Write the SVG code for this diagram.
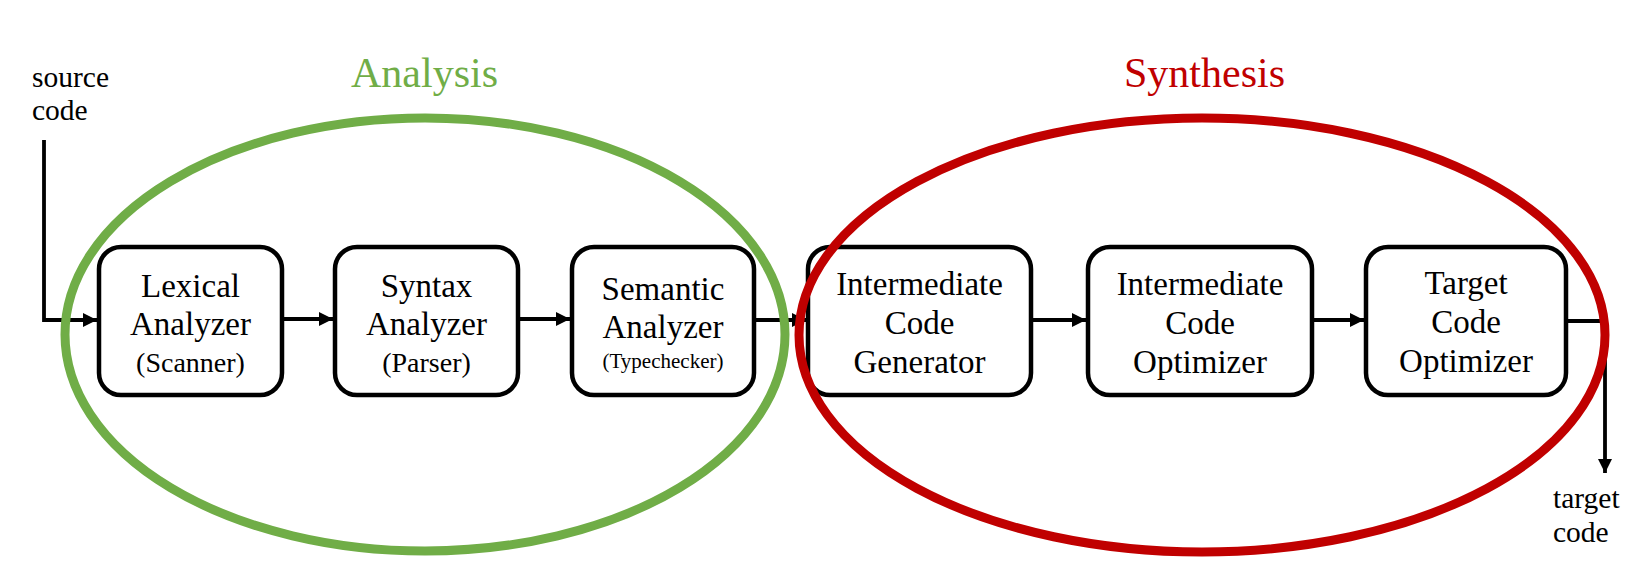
<svg xmlns="http://www.w3.org/2000/svg" width="1630" height="587" viewBox="0 0 1630 587">
  <style>
    .box { fill: #ffffff; stroke: #000000; stroke-width: 4.5; }
    .lbl { font-family: "Liberation Serif", "Times New Roman", serif; font-size: 33px; fill: #000000; text-anchor: middle; }
    .sub { font-family: "Liberation Serif", "Times New Roman", serif; font-size: 28px; fill: #000000; text-anchor: middle; }
    .small { font-family: "Liberation Serif", "Times New Roman", serif; font-size: 21px; fill: #000000; text-anchor: middle; }
    .io { font-family: "Liberation Serif", "Times New Roman", serif; font-size: 29.5px; fill: #000000; }
    .conn { fill: none; stroke: #000000; stroke-width: 3.8; }
    .title { font-family: "Liberation Serif", "Times New Roman", serif; font-size: 42px; text-anchor: middle; }
    .group { fill: none; stroke-width: 9; }
  </style>
  <defs>
    <marker id="arrow" markerUnits="userSpaceOnUse" markerWidth="14" markerHeight="14" refX="14" refY="7" orient="auto">
      <path d="M0,0 L14,7 L0,14 Z" fill="#000000"/>
    </marker>
  </defs>

  <rect width="1630" height="587" fill="#ffffff"/>

  <g id="connectors">
    <polyline class="conn" points="44,140 44,320 97,320" marker-end="url(#arrow)"/>
    <line class="conn" x1="282" y1="319" x2="333" y2="319" marker-end="url(#arrow)"/>
    <line class="conn" x1="518" y1="319" x2="570" y2="319" marker-end="url(#arrow)"/>
    <line class="conn" x1="754" y1="320" x2="806" y2="320" marker-end="url(#arrow)"/>
    <line class="conn" x1="1031" y1="320" x2="1086" y2="320" marker-end="url(#arrow)"/>
    <line class="conn" x1="1312" y1="320" x2="1364" y2="320" marker-end="url(#arrow)"/>
    <polyline class="conn" points="1566,321 1605,321 1605,473" marker-end="url(#arrow)"/>
  </g>

  <g id="lexical">
    <rect class="box" x="99" y="247" width="183" height="148" rx="22"/>
    <text class="lbl" x="190.5" y="297">Lexical</text>
    <text class="lbl" x="190.5" y="335">Analyzer</text>
    <text class="sub" x="190.5" y="372">(Scanner)</text>
  </g>

  <g id="syntax">
    <rect class="box" x="335" y="247" width="183" height="148" rx="22"/>
    <text class="lbl" x="426.5" y="297">Syntax</text>
    <text class="lbl" x="426.5" y="335">Analyzer</text>
    <text class="sub" x="426.5" y="372">(Parser)</text>
  </g>

  <g id="semantic">
    <rect class="box" x="572" y="247" width="182" height="148" rx="22"/>
    <text class="lbl" x="663" y="300">Semantic</text>
    <text class="lbl" x="663" y="338">Analyzer</text>
    <text class="small" x="663" y="368">(Typechecker)</text>
  </g>

  <g id="icg">
    <rect class="box" x="808" y="247" width="223" height="148" rx="22"/>
    <text class="lbl" x="919.5" y="295">Intermediate</text>
    <text class="lbl" x="919.5" y="334">Code</text>
    <text class="lbl" x="919.5" y="373">Generator</text>
  </g>

  <g id="ico">
    <rect class="box" x="1088" y="247" width="224" height="148" rx="22"/>
    <text class="lbl" x="1200" y="295">Intermediate</text>
    <text class="lbl" x="1200" y="334">Code</text>
    <text class="lbl" x="1200" y="373">Optimizer</text>
  </g>

  <g id="target">
    <rect class="box" x="1366" y="247" width="200" height="148" rx="22"/>
    <text class="lbl" x="1466" y="294">Target</text>
    <text class="lbl" x="1466" y="333">Code</text>
    <text class="lbl" x="1466" y="372">Optimizer</text>
  </g>

  <g id="source">
    <text class="io" x="32" y="87">source</text>
    <text class="io" x="32" y="120">code</text>
  </g>

  <g id="output">
    <text class="io" x="1553" y="508">target</text>
    <text class="io" x="1553" y="542">code</text>
  </g>

  <g id="analysis">
    <ellipse class="group" cx="425" cy="334.5" rx="360" ry="216.5" stroke="#70AD47"/>
    <text class="title" x="424.5" y="87" fill="#70AD47">Analysis</text>
  </g>

  <g id="synthesis">
    <ellipse class="group" cx="1202" cy="335" rx="403" ry="217" stroke="#C00000"/>
    <text class="title" x="1204.5" y="87" fill="#C00000">Synthesis</text>
  </g>
</svg>
